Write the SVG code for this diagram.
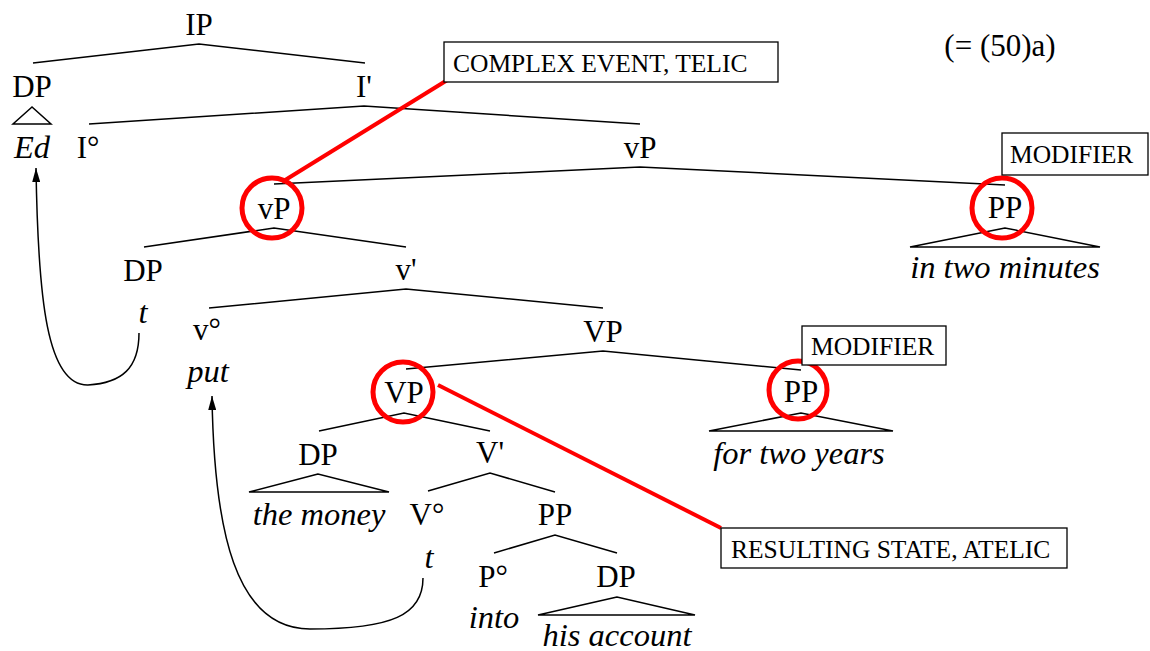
<svg xmlns="http://www.w3.org/2000/svg" width="1150" height="651" viewBox="0 0 1150 651" font-family="'Liberation Serif', Tinos, 'Times New Roman', 'DejaVu Serif', serif">
<style>
text{font-family:'Liberation Serif', Tinos, 'Times New Roman', 'DejaVu Serif', serif}
.n{font-size:31px;fill:#000;text-anchor:middle}
.i{font-size:32.5px;font-style:italic;fill:#000;text-anchor:middle}
.b{font-size:25.5px;fill:#000}
.e{stroke:#000;stroke-width:1.5;fill:none}
.tri{stroke:#000;stroke-width:1.5;fill:none;stroke-linejoin:miter}
.box{stroke:#000;stroke-width:1.3;fill:#fff}
.red{stroke:#f00;stroke-width:4;fill:none}
.circ{stroke:#f00;stroke-width:5;fill:none}
.mv{stroke:#000;stroke-width:1.5;fill:none}
</style>
<defs>
<marker id="ah" markerUnits="userSpaceOnUse" markerWidth="14" markerHeight="8" refX="14" refY="4" orient="auto">
<path d="M0,0 L14,4 L0,8 z" fill="#000"/>
</marker>
</defs>

<g id="connectors">
<polyline class="e" points="33,63 199,44 365,63"/>
<polyline class="e" points="89,124 364,106 640,124"/>
<polyline class="e" points="274,184 640,167 1005,185"/>
<polyline class="e" points="144,247 274,228 406,247"/>
<polyline class="e" points="209,308 406,289 603,308"/>
<polyline class="e" points="406,369 603,351 801,370"/>
<polyline class="e" points="319,431 404,413 490,431"/>
<polyline class="e" points="428,491 490,473 555,492"/>
<polyline class="e" points="494,553 555,535 617,553"/>
<polygon class="tri" points="32,107 13,124 51,124"/>
<polygon class="tri" points="1005,228 910,247 1100,247"/>
<polygon class="tri" points="801,413 709,431 893,431"/>
<polygon class="tri" points="318,474 249,492 389,492"/>
<polygon class="tri" points="617,597 538,615 695,615"/>
<path class="mv" d="M139,333 C139,368 122,383 88,385 C47,386 38,300 36,168" marker-end="url(#ah)"/>
<path class="mv" d="M423,578 C423,615 392,629 310,629 C235,629 214,530 212,396" marker-end="url(#ah)"/>
<line class="red" x1="449" y1="79" x2="282" y2="182"/>
<line class="red" x1="438" y1="385" x2="721" y2="528"/>
</g>

<g id="IP"><text class="n" x="199" y="35">IP</text></g>
<g id="DP1"><text class="n" x="32" y="97">DP</text></g>
<g id="Ed"><text class="i" x="32" y="158">Ed</text></g>
<g id="Ibar"><text class="n" x="364" y="97">I'</text></g>
<g id="I0"><text class="n" x="88" y="158">I°</text></g>
<g id="vP1"><text class="n" x="640" y="158">vP</text></g>
<g id="vP2">
<circle class="circ" cx="272" cy="208" r="30"/>
<text class="n" x="274" y="219">vP</text>
</g>
<g id="PP1">
<circle class="circ" cx="1002" cy="208" r="30"/>
<text class="n" x="1005" y="218">PP</text>
</g>
<g id="inTwoMinutes"><text class="i" x="1005" y="278">in two minutes</text></g>
<g id="DP2"><text class="n" x="143" y="281">DP</text></g>
<g id="t1"><text class="i" x="143" y="323">t</text></g>
<g id="vbar"><text class="n" x="406" y="280">v'</text></g>
<g id="v0"><text class="n" x="207" y="340">v°</text></g>
<g id="put"><text class="i" x="208" y="382">put</text></g>
<g id="VP1"><text class="n" x="603" y="342">VP</text></g>
<g id="VP2">
<circle class="circ" cx="403" cy="392" r="30"/>
<text class="n" x="404" y="403">VP</text>
</g>
<g id="PP2">
<circle class="circ" cx="798" cy="390" r="29"/>
<text class="n" x="801" y="402">PP</text>
</g>
<g id="forTwoYears"><text class="i" x="799" y="464">for two years</text></g>
<g id="DP3"><text class="n" x="318" y="465">DP</text></g>
<g id="theMoney"><text class="i" x="319" y="525">the money</text></g>
<g id="Vbar"><text class="n" x="490" y="463">V'</text></g>
<g id="V0"><text class="n" x="427" y="525">V°</text></g>
<g id="t2"><text class="i" x="429" y="568">t</text></g>
<g id="PP3"><text class="n" x="555" y="525">PP</text></g>
<g id="P0"><text class="n" x="493" y="587">P°</text></g>
<g id="DP4"><text class="n" x="616" y="587">DP</text></g>
<g id="into"><text class="i" x="494" y="628">into</text></g>
<g id="hisAccount"><text class="i" x="617" y="646">his account</text></g>

<g id="ref"><text class="n" x="1000" y="56">(= (50)a)</text></g>

<g id="boxComplex">
<rect class="box" x="444" y="42" width="334" height="40"/>
<text class="b" x="453" y="72">COMPLEX EVENT, TELIC</text>
</g>
<g id="boxModifier1">
<rect class="box" x="1002" y="133" width="146" height="42"/>
<text class="b" x="1010" y="163">MODIFIER</text>
</g>
<g id="boxModifier2">
<rect class="box" x="802" y="326" width="144" height="39"/>
<text class="b" x="811" y="355">MODIFIER</text>
</g>
<g id="boxResulting">
<rect class="box" x="721" y="528" width="346" height="40"/>
<text class="b" x="731" y="558">RESULTING STATE, ATELIC</text>
</g>
</svg>
